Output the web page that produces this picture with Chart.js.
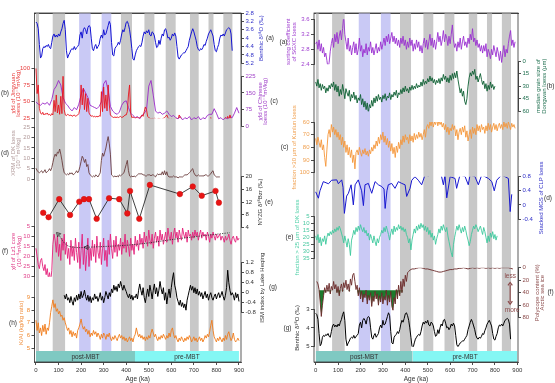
<!DOCTYPE html>
<html><head><meta charset="utf-8">
<script src="https://cdn.jsdelivr.net/npm/chart.js@4.4.1/dist/chart.umd.min.js"></script>
<style>
html,body{margin:0;padding:0;background:#fff;}
#wrap{position:relative;width:555px;height:383px;overflow:hidden;background:#fff;}
#cL{position:absolute;left:0;top:0;}
#cR{position:absolute;left:277px;top:0;}
</style></head><body>
<div id="wrap"><canvas id="cL" width="282" height="383"></canvas><canvas id="cR" width="278" height="383"></canvas></div>
<script>
// ===================== DATA =====================
const ageTicks = [0,100,200,300,400,500,600,700,800,900];
const misLabels = ['1','5','7','9','11','13','15','17','19','21'];
const misStart  = [0,73,191,290,376,480,574,682,764,830];
const misEnd    = [14,130,243,335,426,526,620,722,788,872];
const misTone   = ['gray','gray','blue','blue','gray','gray','gray','gray','gray','gray'];
const mbtLabels = ['post-MBT','pre-MBT'];
const mbtStartL = [0,439], mbtEndL = [439,900];
const mbtStartR = [0,433], mbtEndR = [433,900];

// Benthic d18O stack (shared), 0-870 ka every 5 ka
const benthicStart = 0, benthicStep = 5;
const benthicD18O = [
 3.23,3.3,3.55,4.3,4.95,4.85,4.5,4.4,4.45,4.35,
 4.4,4.3,4.45,4.5,4.2,3.9,3.8,3.95,3.85,3.95,
 3.8,3.9,3.7,3.55,3.3,3.15,3.6,4.6,4.95,4.8,
 4.7,4.55,4.5,4.55,4.4,4.55,4.45,4.4,4.3,3.85,
 3.7,4.0,3.6,3.5,3.6,3.8,3.5,3.4,3.45,4.0,
 4.5,4.6,4.4,4.3,4.5,4.4,4.3,4.0,3.85,4.0,
 3.6,3.85,3.8,3.6,3.4,3.2,3.35,4.2,4.8,4.85,
 4.5,4.4,4.35,4.2,4.3,4.1,3.8,3.6,3.7,3.5,
 3.25,3.2,3.35,3.6,4.0,4.5,5.0,5.05,4.8,4.6,
 4.5,4.4,4.35,4.4,4.2,3.9,3.7,3.8,3.65,3.75,
 3.6,3.85,3.9,3.7,3.75,3.9,4.2,4.45,4.4,4.1,
 4.3,4.0,3.8,3.9,3.6,3.55,3.75,4.0,3.95,4.1,
 4.0,3.8,3.9,3.75,3.9,4.4,4.9,5.0,4.9,4.8,
 4.75,4.7,4.7,4.6,4.5,4.4,4.1,3.9,3.7,3.55,
 3.7,3.9,4.1,4.4,4.55,4.6,4.5,4.55,4.45,4.3,
 4.35,4.15,4.0,3.8,3.7,3.6,3.75,3.9,4.3,4.6,
 4.65,4.45,4.3,4.0,3.85,3.9,3.8,3.9,3.75,3.6,
 3.55,3.5,3.55,3.8,4.6];

// (b) Xfd of Jingyuan loess, 0-900 every 5
const jyStart = 0, jyStep = 5;
const xfdJingyuan = [
 100,62,75,40,33,31,34,30,32,31,
 33,30,31,29,32,30,52,35,60,33,
 45,31,58,32,88,38,30,29,31,30,
 29,30,28,29,30,28,29,30,32,40,
 75,45,70,38,62,35,55,33,30,28,
 29,27,28,27,28,27,29,28,65,35,
 72,40,60,36,75,45,30,28,27,26,
 27,26,27,26,27,28,26,27,28,30,
 30,35,60,75,32,26,27,26,25,26,
 26,25,26,27,30,28,35,42,38,28,
 26,25,24,25,24,25,24,23,24,25,
 24,23,24,25,26,28,30,26,24,23,
 24,23,22,23,24,25,23,30,26,24,
 23,22,23,22,23,22,24,23,22,23,
 22,23,22,21,22,23,22,21,22,21,
 22,23,22,21,22,26,23,22,21,22,
 21,22,21,22,23,22,21,22,26,22,
 28,22,30,24,22,21,22,21,22,21,
 22];

// (c) Xfd of Chinese loess, 0-900 every 10
const clStart = 0, clStep = 10;
const xfdChinese = [
 110,100,95,105,100,108,95,120,165,180,
 205,185,130,105,95,80,70,85,75,100,
 140,170,150,130,95,90,85,80,90,110,
 190,205,160,90,70,60,55,65,95,110,
 115,85,60,50,40,45,35,50,60,75,
 180,205,140,70,60,65,55,60,70,55,
 45,50,40,35,45,30,40,35,45,30,
 40,35,45,30,40,35,50,55,55,80,
 60,35,40,30,40,35,45,40,60,85,
 60];

// (d) XRM of DK loess, 0-815 every 5
const dkStart = 0, dkStep = 5;
const xrmDK = [
 5.2,4,3.5,3,3.5,4,3,3.5,4.5,3,
 3.5,4,5,4,5.5,8,10.5,12,11,13,
 12.5,14.5,12,9,5.5,3,2.5,2,2.5,2,
 3,2.5,3,2,2.5,3,4,3,4,6,
 8.5,11,10,8,9.5,6,7,3,2,1.5,
 1,1.5,1,2,1.5,1,2,3,9,12.5,
 11,13,15,18,20.5,17,12,2,1.5,1,
 1.5,1,1.5,1,2,1.5,2,2.5,3,5,
 7,9,4,1.5,1,1.5,1,1.5,1,1.5,
 2,2.5,2.5,2.5,2.5,2,2,1.5,1.5,2,
 2,2,1.5,2,2,1.5,1,2,2.5,2,
 2.5,2,3.5,2,4,2,3.5,1.5,1,1,
 1,1,1.5,1,1,1,0.5,1,1,1,
 1,1.5,2,2,2,2.5,3,3.5,4.5,5,
 3,2,1.5,1.5,2,1.5,1.5,1.5,1.5,1.5,
 2,2,1.5,1.5,2,2.5,3.5,4,2,1.5,
 1,1,1,1];

// (e) NYZG d18Bzr
const nyzgAge = [32,56,103,151,192,213,235,269,324,369,405,417,458,505,638,695,735,796,811];
const nyzgVal = [8.6,7.2,12.9,7.9,12.1,12.9,12.9,6.7,13.2,12.9,8.4,15.5,6.7,17.4,14.5,16.9,14.0,15.5,11.8];

// (f) Xlf of Lz1 core, 0-900 every 5
const lzStart = 0, lzStep = 5;
const xlfLz1 = [
 16,20,24,26,22,21,25,27,24,29,
 26,31,28,33,27,14,9,12,18,10,
 20,14,22,11,17,9,19,13,21,16,
 24,12,20,15,22,11,18,23,13,26,
 17,9,24,15,27,19,11,25,16,22,
 12,20,14,23,10,18,21,13,24,16,
 11,22,17,25,12,19,9,16,21,12,
 18,10,20,14,17,11,19,13,16,9,
 18,12,15,20,11,17,14,19,10,15,
 12,17,9,14,11,16,8,13,10,15,
 7,12,14,9,16,11,8,13,10,15,
 7,12,9,14,11,8,13,6,10,12,
 8,14,9,6,11,8,13,7,10,12,
 6,9,11,8,13,7,10,9,12,8,
 11,7,10,8,12,9,7,11,8,10,
 9,12,8,10,13,9,11,8,10,12,
 9,11,10,9,12,10,11,13,10,12,
 11,9,12,14,11,10,12,13,10,12,
 11];
const lzTrendAge = [99,136,180,225,431,650,860];
const lzTrendVal = [9.1,14.4,15.6,15.5,14.2,11,8.3];

// (g) ISM index by Lake Heqing, 125-900 every 5
const ismStart = 125, ismStep = 5;
const ismHeqing = [
 -0.1,-0.25,-0.05,-0.3,-0.2,-0.4,-0.15,-0.35,-0.5,-0.2,
 -0.35,-0.1,-0.3,-0.05,-0.25,0.05,-0.2,-0.1,0.1,-0.15,
 -0.3,-0.1,-0.35,-0.15,-0.4,-0.2,-0.3,-0.05,-0.25,-0.15,
 -0.35,-0.2,0.0,-0.3,-0.15,-0.4,-0.2,0.05,-0.1,-0.25,
 0.0,-0.15,0.15,0.0,0.3,0.1,0.25,0.05,0.35,0.2,
 0.45,0.25,0.1,0.3,0.15,0.05,-0.1,-0.2,-0.05,-0.25,
 -0.1,-0.3,-0.15,-0.2,-0.05,-0.25,0.1,0.35,0.1,-0.1,
 0.2,-0.2,-0.4,-0.1,0.15,-0.15,0.3,0.05,-0.25,0.1,
 0.35,-0.05,0.2,-0.15,0.1,0.45,0.15,-0.05,0.2,-0.3,
 0.0,-0.45,-0.1,0.15,-0.2,0.2,0.55,0.8,0.3,0.1,
 -0.2,-0.35,-0.5,-0.3,-0.55,-0.4,-0.6,-0.45,-0.7,-0.3,
 -0.1,0.1,0.3,0.1,0.25,0.0,0.2,-0.05,0.15,-0.1,
 0.05,-0.15,0.0,-0.25,-0.1,0.05,-0.2,-0.05,-0.3,-0.1,
 0.0,-0.2,-0.3,-0.15,-0.05,-0.25,-0.1,0.0,-0.2,-0.1,
 0.05,-0.15,-0.3,-0.1,0.2,0.9,0.4,0.1,-0.1,0.0,
 -0.1,-0.3,0.0,-0.2,-0.05,-0.35];

// (h) K/Al ratio, 0-900 every 5
const kaStart = 0, kaStep = 5;
const kAl = [
 7.2,6.4,7.0,6.2,6.6,6.0,6.8,6.3,6.9,6.1,
 6.6,6.4,7.0,7.8,8.3,8.8,8.2,8.5,7.9,8.1,
 7.7,7.9,7.5,7.6,7.2,7.4,7.0,6.7,6.4,6.6,
 6.1,6.4,5.9,6.3,6.0,6.2,5.8,6.4,6.6,6.9,
 7.3,6.8,6.5,6.7,6.3,6.5,6.1,6.4,5.9,6.2,
 6.0,6.4,6.1,6.3,5.9,6.2,6.0,5.7,6.1,5.8,
 6.2,6.0,5.7,6.1,5.9,6.2,5.8,5.6,5.9,5.7,
 6.0,5.8,5.6,5.9,6.1,5.8,6.0,5.7,5.9,5.6,
 5.8,5.5,5.7,5.9,5.6,5.8,5.5,5.9,6.1,6.6,
 6.2,5.9,6.1,5.8,6.0,5.7,5.9,5.6,5.9,5.7,
 6.0,5.8,6.2,6.5,6.2,5.9,6.1,5.8,5.6,5.9,
 5.7,6.0,5.8,6.1,5.9,5.7,6.0,5.8,6.2,5.9,
 6.4,6.6,6.1,5.8,6.0,5.7,5.5,5.8,5.6,5.9,
 5.7,5.5,5.8,5.6,5.9,5.7,6.0,5.8,5.5,5.7,
 5.9,5.6,5.8,5.5,5.7,5.9,5.6,5.8,5.5,5.7,
 6.0,5.8,6.1,5.9,6.3,6.8,7.2,6.4,5.9,5.7,
 5.5,5.8,5.6,5.9,5.7,5.5,5.8,5.6,6.0,5.7,
 6.1,6.3,5.9,5.6,5.8,6.2,5.7,5.5,5.6,5.8,
 5.6];

// Right (a) sorting coefficient of SGXC loess, 0-890 every 5
const sgStart = 0, sgStep = 5;
const sortingSGXC = [
 2.95,3.0,2.8,3.05,2.75,2.95,2.7,2.85,2.6,2.7,
 2.5,2.3,2.45,2.75,2.95,3.1,2.85,3.2,3.0,3.25,
 2.95,3.15,3.3,3.05,3.35,3.7,3.2,3.0,2.8,3.1,
 2.75,2.9,2.65,2.85,3.0,2.7,2.95,2.65,2.8,3.1,
 2.75,2.9,2.6,2.8,2.7,2.95,2.65,2.85,2.75,3.0,
 2.7,2.85,2.65,2.8,2.95,2.7,2.85,2.75,3.0,2.8,
 2.95,3.1,2.9,3.15,3.0,3.2,2.95,3.1,3.25,3.0,
 3.15,2.95,3.1,2.9,3.05,2.85,3.1,2.95,3.15,2.9,
 3.05,2.8,3.0,2.85,3.1,2.9,3.05,2.75,2.95,2.8,
 3.05,2.85,3.0,2.75,2.9,2.7,2.95,3.1,2.85,3.05,
 2.8,3.0,3.2,2.9,3.1,2.85,3.05,2.8,3.0,3.25,
 3.0,3.15,2.9,3.05,3.3,3.0,3.2,3.1,2.9,3.15,
 2.95,3.2,3.45,3.05,2.85,2.95,2.75,3.0,2.85,3.1,
 2.8,3.0,3.15,2.9,3.0,2.85,3.1,2.95,3.2,3.05,
 3.35,3.0,3.1,2.9,3.05,2.85,2.95,2.75,2.9,2.7,
 2.9,2.75,2.95,2.6,2.8,2.7,2.55,2.8,2.65,2.9,
 2.75,2.6,2.85,2.7,2.5,2.75,2.45,2.7,2.9,2.6,
 2.8,2.7,2.95,3.15,3.3,2.9,3.05,2.85,3.0];

// Right (b) median grain size of Dongwan loess, 0-800 every 5
const dwStart = 0, dwStep = 5;
const mgsDongwan = [
 25,30,22,32,27,35,28,33,30,38,
 32,36,29,33,27,31,25,35,28,37,
 30,42,34,40,28,36,45,33,38,42,
 35,48,40,44,37,46,41,50,44,47,
 40,52,45,55,48,58,50,62,52,56,
 47,54,44,50,42,48,40,46,43,49,
 41,45,39,47,42,44,38,46,40,43,
 37,41,35,44,38,40,34,39,32,37,
 30,36,33,38,31,35,29,34,30,33,
 27,32,29,31,25,30,22,28,24,27,
 21,25,18,24,20,26,22,28,23,26,
 21,27,20,24,16,22,18,25,20,26,
 17,23,15,21,14,20,12,22,30,38,
 33,42,36,48,52,45,30,20,14,18,
 12,16,10,22,18,25,20,15,22,28,
 24,33,27,36,29,34,25,32,28,34,
 30];

// Right (c) fraction >30 um of Kunlun loess, 0-890 every 5
const klStart = 0, klStep = 5;
const fracKunlun = [
 73,78,72,76,80,74,82,78,88,95,
 82,70,66,72,62,68,64,70,66,72,
 68,74,70,78,72,80,75,84,78,86,
 80,88,82,92,86,97,84,82,86,80,
 84,87,82,85,81,86,83,87,82,85,
 80,83,78,81,75,79,72,77,70,74,
 68,76,71,78,73,80,75,83,77,85,
 80,88,79,84,76,81,74,78,71,76,
 70,74,72,77,70,75,71,76,69,74,
 70,73,68,72,69,74,70,66,72,64,
 62,65,60,63,58,64,60,62,57,63,
 59,62,60,64,61,66,62,68,64,70,
 65,67,62,66,63,71,66,74,68,65,
 70,64,68,63,72,67,75,70,66,73,
 64,69,65,70,62,67,63,68,62,66,
 64,69,63,67,61,66,62,68,64,61,
 66,62,67,63,61,65,62,66,60,64,
 61,65,60,63,66,61,64,62,65];

// Right (d) stacked MGS of CLP loess
const clpAge = [0,12,19,34,57,71,94,101,116,122,128,138,146,158,168,176,190,205,213,220,
 235,250,265,280,295,305,310,318,324,339,354,369,384,399,406,421,429,443,458,473,
 488,503,518,533,548,562,570,577,585,600,622,629,644,667,681,689,711,726,741,771,
 786,797,808,830,845,860,868,875];
const clpMGS = [0.37,0.19,0.4,0.66,0.6,0.7,0.71,0.6,0.71,0.5,-0.24,0.25,0.33,0.57,0.0,0.57,0.71,0.4,-0.02,0.57,
 0.61,0.33,0.66,0.57,0.52,0.45,-0.1,0.4,0.57,0.61,0.47,0.66,0.61,0.57,0.24,0.47,0.7,0.8,0.7,0.57,
 0.85,0.82,0.88,0.84,0.9,0.8,0.57,0.85,0.2,0.8,0.75,0.47,0.85,0.8,0.57,0.85,0.8,0.57,0.85,0.75,
 0.66,0.4,0.7,0.85,0.8,0.75,-0.19,0.3];

// Right (e) fraction >25 um of DK loess, 0-810 every 5
const dkfStart = 0, dkfStep = 5;
const fracDK = [
 19,22,18,24,20,26,21,23,19,25,
 20,17,19,16,18,15,17,14,16,13,
 15,12,14,17,20,24,19,23,27,21,
 25,33,22,19,15,18,13,16,12,15,
 11,14,16,13,17,15,19,17,22,18,
 21,24,19,23,26,21,24,20,18,15,
 17,13,16,12,15,18,22,17,14,18,
 12,16,13,15,11,14,12,15,13,16,
 14,18,20,24,21,29,22,18,14,17,
 12,15,11,14,10,13,11,15,12,16,
 13,18,15,20,17,22,19,25,21,18,
 14,17,12,15,11,14,16,13,19,23,
 27,31,34,25,20,16,12,15,11,14,
 17,13,16,12,15,19,22,26,23,18,
 15,12,14,11,13,16,14,12,15,18,
 13,16,20,24,19,23,17,20,16,21,
 18,22,19];

// Right (f) Polycope content (Arctic sea ice)
const polyAStart = 5, polyAStep = 5;      // 5-430 ka
const polycopeA = [
 22,26,35,55,78,60,45,32,40,28,
 38,25,42,30,36,22,34,27,40,30,
 45,33,26,38,24,32,20,35,26,38,
 18,28,12,9,22,35,28,45,32,50,
 38,55,42,48,36,58,44,52,40,62,
 46,54,38,50,42,60,45,55,40,58,
 46,52,36,60,44,55,38,62,68,48,
 58,35,50,28,45,22,40,18,30,12,
 22,8,6,4,3,2];
const polyBStart = 440, polyBStep = 10;   // 440-880 ka
const polycopeB = [
 2,1,0,0,1,2,2,3,4,5,
 6,7,7,6,5,4,3,3,2,2,
 1,1,0,1,2,1,0,1,0,1,
 0,0,1,0,1,0,1,0,1,0,
 0,0,0,1,2];
const polycopeLimit = 36;   // green shading beyond this level

// Tick labels
const ticksLa = [2.8,3.2,3.6,4,4.4,4.8,5.2];
const ticksLb = [25,50,75,100];
const ticksLc = [0,75,150,225];
const ticksLd = [0,5,10,15,20,25];
const ticksLe = [4,8,12,16,20];
const ticksLf = [5,10,15,20,25,30];
const ticksLg = [-0.8,-0.4,0,0.4,0.8,1.2];
const ticksLh = [5,6,7,8,9];
const ticksRa = [2.4,2.8,3.2,3.6];
const ticksRb = [0,15,30,45,60];
const ticksRc = [60,70,80,90,100];
const ticksRd = [-0.4,0,0.4,0.8];
const ticksRe = [5,10,15,20,25,30,35];
const ticksRf = [0,20,40,60,80];
const ticksRg = [3,4,5];

// ===================== BUILD =====================
const FONT = '"Liberation Sans", "DejaVu Sans", Arial, sans-serif';
Chart.defaults.font.family = FONT;
Chart.defaults.font.size = 6;
Chart.defaults.color = '#333';

const seq = (start, step, vals) => vals.map((v, i) => ({x: start + i * step, y: v}));
const pairs = (ages, vals) => ages.map((a, i) => ({x: a, y: vals[i]}));
const fmt = v => String(+(+v).toFixed(2));

function tickAxis(pos, weight, min, max, ticks, color, reverse, width) {
  return {
    type: 'linear', position: pos, stack: 's', stackWeight: weight,
    min: min, max: max, reverse: !!reverse,
    afterFit: s => { s.width = width; },
    afterBuildTicks: s => { s.ticks = ticks.map(v => ({value: v})); },
    grid: {drawOnChartArea: false, drawTicks: true, tickLength: 3, color: '#222', lineWidth: 0.8},
    border: {display: true, color: '#222', width: 0.8},
    ticks: {color: color, font: {size: 6}, padding: 1.5, autoSkip: false, callback: v => fmt(v)},
    title: {display: false}
  };
}
function spacer(pos, weight, width) {
  return {type: 'linear', position: pos, stack: 's', stackWeight: weight, min: 0, max: 1,
    display: false, afterFit: s => { s.width = width; }};
}
function xAxes(min, max) {
  return {
    x: {type: 'linear', position: 'bottom', min: min, max: max,
      afterFit: s => { s.height = 21; },
      afterBuildTicks: s => { s.ticks = ageTicks.map(v => ({value: v})); },
      grid: {drawOnChartArea: false, tickLength: 3, color: '#222', lineWidth: 0.8},
      border: {display: true, color: '#222', width: 0.8},
      ticks: {padding: 2, maxRotation: 0, autoSkip: false, color: '#333', font: {size: 6}},
      title: {display: true, text: 'Age (ka)', color: '#333', font: {size: 6.5}, padding: 0}},
    xTop: {type: 'linear', position: 'top', min: min, max: max,
      afterFit: s => { s.height = 13; },
      afterBuildTicks: s => { s.ticks = misStart.map((a, i) => ({value: (a + misEnd[i]) / 2})); },
      grid: {display: false, drawTicks: false},
      border: {display: true, color: '#222', width: 0.8},
      ticks: {padding: -9, maxRotation: 0, autoSkip: false, color: '#333', font: {size: 6.5},
        callback: (v, i) => misLabels[i]}},
    yBand: {type: 'linear', position: 'left', display: false, min: 0, max: 1}
  };
}
function bandSets() {
  return misStart.map((s, i) => ({
    type: 'line', data: [{x: s, y: 1}, {x: misEnd[i], y: 1}], xAxisID: 'x', yAxisID: 'yBand',
    borderColor: 'rgba(0,0,0,0)', borderWidth: 0, pointRadius: 0, fill: 'origin',
    backgroundColor: misTone[i] === 'blue' ? '#c9c9f5' : '#c8c8c8', order: 10
  }));
}
function mbtSets(starts, ends) {
  const cols = ['#7fc9c2', '#84f7f4'];
  return starts.map((s, i) => ({
    type: 'line', data: [{x: s, y: 1}, {x: ends[i], y: 1}], xAxisID: 'x', yAxisID: 'yMBT',
    borderColor: 'rgba(0,0,0,0)', borderWidth: 0, pointRadius: 0, fill: 'origin',
    backgroundColor: cols[i], order: 9
  }));
}
function line(data, axis, color, width, extra) {
  return Object.assign({type: 'line', data: data, xAxisID: 'x', yAxisID: axis, borderColor: color,
    borderWidth: width || 0.9, pointRadius: 0, fill: false, tension: 0, order: 1}, extra || {});
}

function textPlugin(spec) {
  return {
    id: 'texts',
    afterDatasetsDraw(chart) {
      const ctx = chart.ctx, a = chart.chartArea;
      ctx.save();
      ctx.strokeStyle = '#333'; ctx.lineWidth = 0.8;
      ctx.strokeRect(a.left, a.top, a.right - a.left, a.bottom - a.top);
      ctx.restore();
    },
    afterDraw(chart) {
      const ctx = chart.ctx;
      ctx.save();
      ctx.textBaseline = 'middle'; ctx.textAlign = 'center';
      ctx.font = '6px ' + FONT;
      for (const t of spec.titles) {
        const s = chart.scales[t.axis]; const yc = (s.top + s.bottom) / 2;
        ctx.fillStyle = t.color;
        t.lines.forEach((ln, i) => {
          ctx.save(); ctx.translate(t.x + i * 5.5, yc); ctx.rotate(-Math.PI / 2);
          ctx.fillText(ln, 0, 0); ctx.restore();
        });
      }
      ctx.font = '6.5px ' + FONT; ctx.fillStyle = '#333';
      for (const p of spec.panels) {
        const s = chart.scales[p.axis];
        ctx.fillText(p.text, p.x, (s.top + s.bottom) / 2);
      }
      const sx = chart.scales.x, sm = chart.scales.yMBT;
      ctx.font = '6.5px ' + FONT; ctx.fillStyle = '#333';
      spec.mbt.starts.forEach((s, i) => {
        ctx.fillText(mbtLabels[i], sx.getPixelForValue((s + spec.mbt.ends[i]) / 2), (sm.top + sm.bottom) / 2 + 0.5);
      });
      if (spec.extra) spec.extra(chart, ctx);
      ctx.restore();
    }
  };
}

// ---------- LEFT CHART ----------
const WLL = 34.5, WLR = 41;
const scalesL = Object.assign(xAxes(-6.6, 909), {
  // left stack, listed bottom -> top
  yMBT: spacer('left', 11, WLL),
  sL4: spacer('left', 2.7, WLL),
  yLh: tickAxis('left', 51, 5, 9, ticksLh, '#f08a30', false, WLL),
  sL3: spacer('left', 20.6, WLL),
  yLf: tickAxis('left', 50.7, 5, 30, ticksLf, '#e0408a', true, WLL),
  sL2: spacer('left', 47, WLL),
  yLd: tickAxis('left', 51.7, 0, 25, ticksLd, '#b09898', false, WLL),
  sL1: spacer('left', 9, WLL),
  yLb: tickAxis('left', 50, 25, 100, ticksLb, '#e83838', false, WLL),
  sL0: spacer('left', 55.3, WLL),
  // right stack, top -> bottom
  yRa: tickAxis('right', 50.3, 2.8, 5.2, ticksLa, '#3030c8', true, WLR),
  sR0: spacer('right', 12.7, WLR),
  yRc: tickAxis('right', 50.7, 0, 225, ticksLc, '#a040c8', false, WLR),
  sR1: spacer('right', 50, WLR),
  yRe: tickAxis('right', 50.6, 4, 20, ticksLe, '#333333', false, WLR),
  sR2: spacer('right', 35.4, WLR),
  yRg: tickAxis('right', 50, -0.8, 1.2, ticksLg, '#333333', false, WLR),
  sR3: spacer('right', 49.3, WLR)
});
const datasetsL = [].concat(bandSets(), mbtSets(mbtStartL, mbtEndL), [
  line(seq(benthicStart, benthicStep, benthicD18O), 'yRa', '#1414d2', 1.0),
  line(seq(jyStart, jyStep, xfdJingyuan), 'yLb', '#e8141e', 0.9),
  line(seq(clStart, clStep, xfdChinese), 'yRc', '#9a28c8', 0.9),
  line(seq(dkStart, dkStep, xrmDK), 'yLd', '#6a3c3c', 0.9),
  line(pairs(nyzgAge, nyzgVal), 'yRe', '#111', 0.8,
    {pointRadius: 2.8, pointBackgroundColor: '#e81414', pointBorderColor: '#d01010', pointBorderWidth: 0.5}),
  line(seq(lzStart, lzStep, xlfLz1), 'yLf', '#e4207a', 0.9),
  line(pairs(lzTrendAge, lzTrendVal), 'yLf', '#222', 0.8,
    {borderDash: [1.2, 1.2], tension: 0.35, order: 0,
     pointStyle: 'triangle', pointRadius: [2.5,0,0,2.5,0,0,0], pointRotation: [-45,0,0,-90,0,0,0],
     pointBackgroundColor: 'rgba(0,0,0,0)', pointBorderColor: '#222', pointBorderWidth: 0.8}),
  line(seq(ismStart, ismStep, ismHeqing), 'yRg', '#000', 1.0),
  line(seq(kaStart, kaStep, kAl), 'yLh', '#f07a18', 0.9)
]);
new Chart(document.getElementById('cL'), {
  type: 'line',
  data: {datasets: datasetsL},
  options: {
    responsive: false, animation: false, events: [],
    layout: {padding: 0},
    plugins: {legend: {display: false}, tooltip: {enabled: false}},
    scales: scalesL
  },
  plugins: [textPlugin({
    titles: [
      {axis: 'yLb', lines: ['χfd of Jingyuan', 'loess (10⁻⁸m³/kg)'], x: 13, color: '#e84040'},
      {axis: 'yLd', lines: ['XRM of DK loess', '(10⁻⁵m³/kg)'], x: 13, color: '#b09898'},
      {axis: 'yLf', lines: ['χlf of Lz1 core', '(10⁻⁸m³/kg)'], x: 13.5, color: '#e0408a'},
      {axis: 'yLh', lines: ['K/Al (kg/kg ratio)'], x: 21, color: '#f09040'},
      {axis: 'yRa', lines: ['Benthic δ¹⁸O (‰)'], x: 261, color: '#3030c8'},
      {axis: 'yRc', lines: ['χfd of Chinese', 'loess (10⁻⁸m³/kg)'], x: 260, color: '#a040c8'},
      {axis: 'yRe', lines: ['NYZG δ¹⁸Bzr (‰)'], x: 260, color: '#333'},
      {axis: 'yRg', lines: ['ISM index by Lake Heqing'], x: 262, color: '#333'}
    ],
    panels: [
      {text: '(a)', axis: 'yRa', x: 270}, {text: '(b)', axis: 'yLb', x: 5},
      {text: '(c)', axis: 'yRc', x: 274}, {text: '(d)', axis: 'yLd', x: 5},
      {text: '(e)', axis: 'yRe', x: 269}, {text: '(f)', axis: 'yLf', x: 5},
      {text: '(g)', axis: 'yRg', x: 273}, {text: '(h)', axis: 'yLh', x: 13}
    ],
    mbt: {starts: mbtStartL, ends: mbtEndL}
  })]
});

// ---------- RIGHT CHART ----------
const WRL = 37, WRR = 37;
const scalesR = Object.assign(xAxes(-7.6, 903), {
  // left stack, bottom -> top
  yMBT: spacer('left', 11, WRL),
  sL4: spacer('left', 4.3, WRL),
  yLg: tickAxis('left', 37.7, 3, 5, ticksRg, '#333333', true, WRL),
  sL3: spacer('left', 50.7, WRL),
  yLe: tickAxis('left', 42, 5, 35, ticksRe, '#48c8a0', true, WRL),
  sL2: spacer('left', 43.6, WRL),
  yLc: tickAxis('left', 50.7, 60, 100, ticksRc, '#f0a050', true, WRL),
  sL1: spacer('left', 57.7, WRL),
  yLa: tickAxis('left', 45, 2.4, 3.6, ticksRa, '#a040d0', false, WRL),
  sL0: spacer('left', 6.3, WRL),
  // right stack, top -> bottom
  sR0: spacer('right', 48, WRR),
  yRb: tickAxis('right', 50.3, 0, 60, ticksRb, '#207050', true, WRR),
  sR1: spacer('right', 65.4, WRR),
  yRd: tickAxis('right', 42.3, -0.4, 0.8, ticksRd, '#3030c8', false, WRR),
  sR2: spacer('right', 48.7, WRR),
  yRf: tickAxis('right', 50, 0, 80, ticksRf, '#8b4a4a', true, WRR),
  sR3: spacer('right', 44.3, WRR)
});
const polyData = seq(polyAStart, polyAStep, polycopeA).concat(seq(polyBStart, polyBStep, polycopeB));
// green shading: the part of the Polycope record that lies beyond the limit level
const polyGreen = seq(polyAStart, polyAStep, polycopeA).map(p => ({x: p.x, y: Math.max(p.y, polycopeLimit)}));
const datasetsR = [].concat(bandSets(), mbtSets(mbtStartR, mbtEndR), [
  line(seq(sgStart, sgStep, sortingSGXC), 'yLa', '#9a30d0', 0.9),
  line(seq(dwStart, dwStep, mgsDongwan), 'yRb', '#0a5e30', 0.9),
  line(seq(klStart, klStep, fracKunlun), 'yLc', '#f5963a', 0.9),
  line(pairs(clpAge, clpMGS), 'yRd', '#1818d0', 1.0),
  line(seq(dkfStart, dkfStep, fracDK), 'yLe', '#3cc89c', 0.9),
  line(polyGreen, 'yRf', 'rgba(0,0,0,0)', 0.1,
    {fill: {value: polycopeLimit}, backgroundColor: '#1c7a2c', order: 2}),
  line(polyData, 'yRf', '#6a2828', 0.9),
  line(seq(benthicStart, benthicStep, benthicD18O), 'yLg', '#000', 1.0)
]);
new Chart(document.getElementById('cR'), {
  type: 'line',
  data: {datasets: datasetsR},
  options: {
    responsive: false, animation: false, events: [],
    layout: {padding: 0},
    plugins: {legend: {display: false}, tooltip: {enabled: false}},
    scales: scalesR
  },
  plugins: [textPlugin({
    titles: [
      {axis: 'yLa', lines: ['sorting coefficient', 'of SGXC loess'], x: 11.5, color: '#a040d0'},
      {axis: 'yLc', lines: ['fraction >30 μm of Kunlun loess'], x: 17, color: '#f0a050'},
      {axis: 'yLe', lines: ['fraction > 25 μm of DK loess'], x: 20, color: '#50d0a8'},
      {axis: 'yLg', lines: ['Benthic δ¹⁸O (‰)'], x: 20, color: '#333'},
      {axis: 'yRb', lines: ['median grain size of', 'Dongwan loess (μm)'], x: 261.5, color: '#207050'},
      {axis: 'yRd', lines: ['Stacked MGS of CLP loess'], x: 264, color: '#3030c8'},
      {axis: 'yRf', lines: ['Polycope content (%)', 'Arctic sea ice'], x: 260, color: '#8b4a4a'}
    ],
    panels: [
      {text: '(a)', axis: 'yLa', x: 6.5}, {text: '(b)', axis: 'yRb', x: 273.5},
      {text: '(c)', axis: 'yLc', x: 7.5}, {text: '(d)', axis: 'yRd', x: 271},
      {text: '(e)', axis: 'yLe', x: 12.5}, {text: '(f)', axis: 'yRf', x: 273.5},
      {text: '(g)', axis: 'yLg', x: 10.5}
    ],
    mbt: {starts: mbtStartR, ends: mbtEndR},
    extra: (chart, ctx) => {
      const sx = chart.scales.x, sf = chart.scales.yRf;
      const x = sx.getPixelForValue(868);
      const yLess = sf.getPixelForValue(14), yMore = sf.getPixelForValue(68);
      ctx.fillStyle = '#8b4a4a'; ctx.font = '6.5px ' + FONT; ctx.textAlign = 'center';
      ctx.fillText('less', x, yLess);
      ctx.fillText('more', x + 2, yMore);
      const y1 = yLess + 6, y2 = yMore - 6;
      ctx.strokeStyle = '#8b4a4a'; ctx.lineWidth = 1.2;
      ctx.beginPath(); ctx.moveTo(x, y1 + 2); ctx.lineTo(x, y2 - 2); ctx.stroke();
      ctx.beginPath(); ctx.moveTo(x - 2.2, y1 + 3); ctx.lineTo(x, y1); ctx.lineTo(x + 2.2, y1 + 3); ctx.stroke();
      ctx.beginPath(); ctx.moveTo(x - 2.2, y2 - 3); ctx.lineTo(x, y2); ctx.lineTo(x + 2.2, y2 - 3); ctx.stroke();
    }
  })]
});
</script>
</body></html>
